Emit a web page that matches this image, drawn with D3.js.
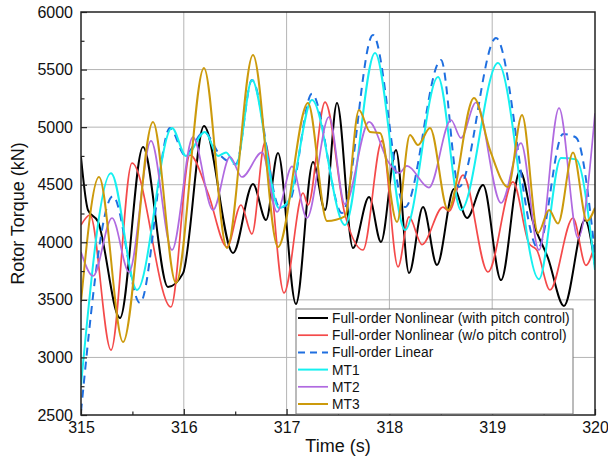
<!DOCTYPE html>
<html>
<head>
<meta charset="utf-8">
<script src="https://cdn.jsdelivr.net/npm/d3@7"></script>
<style>
  body { margin: 0; background: #fff; }
  svg { font-family: "Liberation Sans", Arial, sans-serif; }
</style>
</head>
<body>
<svg id="chart" width="608" height="466"></svg>
<script>
// axis ticks
const xTicks = [315, 316, 317, 318, 319, 320];
const yTicks = [2500, 3000, 3500, 4000, 4500, 5000, 5500, 6000];

// Full-order Nonlinear (with pitch control) - peaks and troughs
const nlPitchTime = [315.000, 315.068, 315.165, 315.379, 315.603, 315.846, 315.992, 316.196, 316.479, 316.673, 316.800, 316.916, 317.091, 317.257, 317.374, 317.490, 317.646, 317.802, 317.918, 318.064, 318.191, 318.327, 318.463, 318.628, 318.755, 318.911, 319.086, 319.270, 319.397, 319.543, 319.698, 319.903, 320.000];
const nlPitchTorque = [4740, 4280, 4180, 3342, 4828, 3612, 3730, 5010, 3907, 4506, 4194, 4775, 3464, 4697, 4280, 5210, 3950, 4393, 4003, 4801, 3733, 4306, 3803, 4463, 4211, 4497, 3672, 4619, 4176, 3863, 3447, 4194, 3800];

// Full-order Nonlinear (w/o pitch control)
const nlNoPitchTime = [315.000, 315.088, 315.292, 315.496, 315.875, 316.060, 316.235, 316.420, 316.556, 316.663, 316.790, 316.975, 317.160, 317.208, 317.374, 317.568, 317.743, 317.928, 318.084, 318.191, 318.317, 318.521, 318.580, 318.716, 318.959, 319.202, 319.358, 319.436, 319.562, 319.786, 319.912, 320.000];
const nlNoPitchTorque = [4150, 4237, 3064, 4688, 3438, 4758, 4428, 3959, 4324, 4072, 4871, 3560, 4428, 4324, 5218, 4240, 3933, 4880, 3786, 4220, 3980, 4306, 4270, 4584, 3742, 4524, 3990, 3930, 3586, 4211, 3800, 3990];

// Full-order Linear
const linTime = [315.000, 315.311, 315.574, 315.866, 316.012, 316.196, 316.352, 316.508, 316.663, 316.936, 317.023, 317.247, 317.539, 317.840, 318.152, 318.502, 318.677, 319.037, 319.446, 319.689, 319.815, 320.000];
const linTorque = [2530, 4400, 3473, 4993, 4758, 4958, 4758, 4680, 5409, 4300, 4340, 5290, 4254, 5800, 4306, 5583, 4480, 5774, 3950, 4940, 4910, 3900];

// MT1
const mt1Time = [315.000, 315.292, 315.545, 315.885, 316.021, 316.206, 316.333, 316.411, 316.508, 316.663, 316.926, 317.023, 317.247, 317.568, 317.860, 318.152, 318.473, 318.696, 319.056, 319.455, 319.669, 319.815, 320.000];
const mt1Torque = [2760, 4600, 3586, 4993, 4750, 4958, 4750, 4780, 4671, 5409, 4298, 4367, 5236, 4150, 5644, 4107, 5436, 4280, 5557, 3680, 4732, 4720, 3760];

// MT2
const mt2Time = [315.000, 315.117, 315.302, 315.467, 315.681, 315.885, 316.089, 316.284, 316.449, 316.566, 316.761, 316.907, 317.053, 317.198, 317.412, 317.568, 317.802, 317.996, 318.093, 318.171, 318.385, 318.599, 318.696, 318.842, 319.086, 319.280, 319.455, 319.650, 319.835, 320.000];
const mt2Torque = [3916, 3707, 4211, 3742, 4880, 3933, 4914, 4280, 4741, 4567, 4780, 4263, 4660, 4211, 5088, 4330, 5045, 4688, 4602, 4663, 4475, 5062, 4906, 5214, 4341, 4862, 3933, 5166, 4037, 5120];

// MT3
const mt3Time = [315.000, 315.175, 315.409, 315.700, 315.924, 316.196, 316.420, 316.673, 316.916, 317.208, 317.393, 317.568, 317.704, 317.811, 317.909, 318.074, 318.200, 318.278, 318.395, 318.570, 318.823, 318.979, 319.154, 319.290, 319.446, 319.553, 319.640, 319.786, 319.922, 320.000];
const mt3Torque = [3482, 4567, 3134, 5045, 3646, 5514, 3950, 5627, 3959, 5210, 4185, 4225, 5149, 4958, 4949, 4176, 4932, 4845, 4993, 4280, 5253, 4800, 4480, 5105, 4081, 4280, 4163, 4780, 4185, 4300];

const series = [
  { name: "Full-order Nonlinear (with pitch control)", t: nlPitchTime, v: nlPitchTorque, color: "#000000", width: 2, dash: null },
  { name: "Full-order Nonlinear (w/o pitch control)", t: nlNoPitchTime, v: nlNoPitchTorque, color: "#f44a4a", width: 1.7, dash: null },
  { name: "Full-order Linear", t: linTime, v: linTorque, color: "#1f6fe0", width: 2, dash: "8,6" },
  { name: "MT1", t: mt1Time, v: mt1Torque, color: "#16f0f0", width: 2, dash: null },
  { name: "MT2", t: mt2Time, v: mt2Torque, color: "#b06ae0", width: 1.7, dash: null },
  { name: "MT3", t: mt3Time, v: mt3Torque, color: "#cc9a0c", width: 2, dash: null }
];

const svg = d3.select("#chart");
const plotL = 81, plotR = 595, plotT = 12, plotB = 415;

const x = d3.scaleLinear().domain([315, 320]).range([plotL, plotR]);
const y = d3.scaleLinear().domain([2500, 6000]).range([plotB, plotT]);

//grid
svg.append("g").selectAll("line")
  .data(xTicks.slice(1, -1)).enter().append("line")
  .attr("x1", d => x(d)).attr("x2", d => x(d))
  .attr("y1", plotT).attr("y2", plotB)
  .attr("stroke", "#b4b4b4").attr("stroke-width", 1);
svg.append("g").selectAll("line")
  .data(yTicks.slice(1, -1)).enter().append("line")
  .attr("x1", plotL).attr("x2", plotR)
  .attr("y1", d => y(d)).attr("y2", d => y(d))
  .attr("stroke", "#b4b4b4").attr("stroke-width", 1);

//clip
svg.append("clipPath").attr("id", "plotclip")
  .append("rect").attr("x", plotL).attr("y", plotT)
  .attr("width", plotR - plotL).attr("height", plotB - plotT);

const line = d3.line()
  .x(d => x(d[0]))
  .y(d => y(d[1]))
  .curve(d3.curveMonotoneX);

const lines = svg.append("g").attr("clip-path", "url(#plotclip)");
series.forEach(s => {
  const pts = s.t.map((t, i) => [t, s.v[i]]);
  lines.append("path")
    .datum(pts)
    .attr("d", line)
    .attr("fill", "none")
    .attr("stroke", s.color)
    .attr("stroke-width", s.width)
    .attr("stroke-dasharray", s.dash)
    .attr("stroke-linejoin", "round");
});

//axes, ticks pointing inward
const xAxis = d3.axisBottom(x).tickValues(xTicks).tickSize(-6).tickPadding(7).tickFormat(d3.format("d"));
const xMinor = d3.axisBottom(x).tickValues(d3.range(315.5, 320, 1)).tickSize(-3.5).tickFormat("");
const yAxis = d3.axisLeft(y).tickValues(yTicks).tickSize(-6).tickPadding(8).tickFormat(d3.format("d"));
const yMinor = d3.axisLeft(y).tickValues(d3.range(2750, 6000, 500)).tickSize(-3.5).tickFormat("");

function styleAxis(g) {
  g.select(".domain").remove();
  g.selectAll(".tick line").attr("stroke", "#222").attr("stroke-width", 1.2);
  g.selectAll("text").attr("font-size", 16).attr("fill", "#111");
}

svg.append("g").attr("transform", `translate(0,${plotB})`).call(xAxis).call(styleAxis);
svg.append("g").attr("transform", `translate(0,${plotB})`).call(xMinor).call(styleAxis);
svg.append("g").attr("transform", `translate(${plotL},0)`).call(yAxis).call(styleAxis);
svg.append("g").attr("transform", `translate(${plotL},0)`).call(yMinor).call(styleAxis);

//frame
svg.append("rect")
  .attr("x", plotL).attr("y", plotT)
  .attr("width", plotR - plotL).attr("height", plotB - plotT)
  .attr("fill", "none").attr("stroke", "#222").attr("stroke-width", 1.5);

//titles
svg.append("text")
  .attr("x", (plotL + plotR) / 2).attr("y", 452)
  .attr("text-anchor", "middle").attr("font-size", 18).attr("fill", "#111")
  .text("Time (s)");
svg.append("text")
  .attr("transform", `translate(24,${(plotT + plotB) / 2}) rotate(-90)`)
  .attr("text-anchor", "middle").attr("font-size", 18).attr("fill", "#111")
  .text("Rotor Torque (kN)");

//legend
const lg = svg.append("g");
lg.append("rect")
  .attr("x", 296).attr("y", 309).attr("width", 277).attr("height", 105)
  .attr("fill", "#fff").attr("stroke", "#777").attr("stroke-width", 1);
series.forEach((s, i) => {
  const ly = 318 + i * 17.2;
  lg.append("line")
    .attr("x1", 298).attr("x2", 328).attr("y1", ly).attr("y2", ly)
    .attr("stroke", s.color).attr("stroke-width", s.width)
    .attr("stroke-dasharray", s.dash ? "7,5" : null);
  lg.append("text")
    .attr("x", 332).attr("y", ly + 5)
    .attr("font-size", 13.8).attr("fill", "#111")
    .text(s.name);
});
</script>
</body>
</html>
